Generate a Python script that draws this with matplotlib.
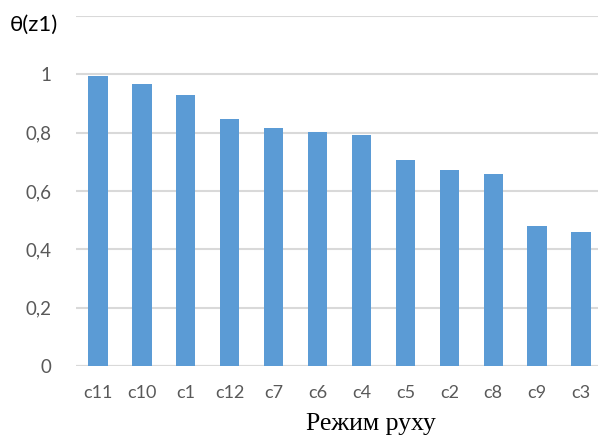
import matplotlib
matplotlib.use("Agg")
import matplotlib.pyplot as plt

# regimes and their theta(z1) values
modes = ["c11", "c10", "c1", "c12", "c7", "c6", "c4", "c5", "c2", "c8", "c9", "c3"]
theta = [0.995, 0.966, 0.928, 0.848, 0.817, 0.801, 0.791, 0.706, 0.672, 0.658, 0.480, 0.460]
yticks = [0, 0.2, 0.4, 0.6, 0.8, 1.0, 1.2]
ytick_labels = ["0", "0,2", "0,4", "0,6", "0,8", "1", ""]

gray = "#595959"

fig = plt.figure(figsize=(5.98, 4.37), dpi=100)
ax = fig.add_axes([76 / 598, 1 - 366 / 437, (603 - 76) / 598, (366 - 16) / 437])

x = list(range(len(modes)))
ax.bar(x, theta, width=0.44, color="#5b9bd5", zorder=3)

ax.set_xlim(-0.5, len(modes) - 0.5)
ax.set_ylim(0, 1.2)
ax.set_yticks(yticks)
ax.set_yticklabels(ytick_labels)
ax.set_xticks(x)
ax.set_xticklabels(modes)

ax.grid(axis="y", color="#d9d9d9", linewidth=1.5, zorder=0)
for s in ["top", "right", "left", "bottom"]:
    ax.spines[s].set_visible(False)
ax.axhline(0, color="#d9d9d9", linewidth=1.5, zorder=2)

ax.tick_params(axis="both", length=0, colors=gray)
ax.tick_params(axis="y", labelsize=13.5, pad=18)
ax.tick_params(axis="x", labelsize=13, pad=14)
for lab in ax.get_xticklabels() + ax.get_yticklabels():
    lab.set_fontfamily("Lato")

fig.text(10 / 598, 1 - 25 / 437, "θ(z1)", fontsize=16, fontfamily="Lato",
         color="black", va="center", ha="left")
# axis title sits right of centre in the original
fig.text(371 / 598, 1 - 424 / 437, "Режим руху", fontsize=18.5,
         fontfamily="Liberation Serif", color="black", va="center", ha="center")

fig.savefig("out.png", dpi=100)
